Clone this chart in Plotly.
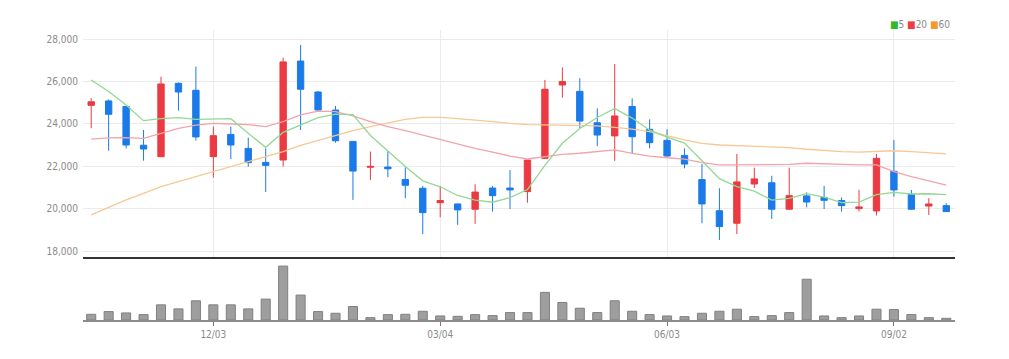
import pandas as pd
import plotly.graph_objects as go

# weekly candles
dates = [d.strftime("%Y-%m-%d") for d in pd.date_range("2018-10-15", periods=50, freq="7D")]

opens = [24870, 25080, 24820, 22990, 22450, 25910, 25580, 22450, 23500, 22840,
         22180, 22290, 26960, 25500, 24650, 23170, 21950, 21960, 21370, 20960,
         20280, 20220, 19970, 20970, 20970, 20800, 22370, 25830, 25530, 24050,
         23430, 24820, 23740, 23220, 22510, 21370, 19900, 19310, 21160, 21220,
         19970, 20600, 20530, 20380, 20000, 19890, 21760, 20670, 20120, 20140]
highs = [25200, 25150, 24830, 23710, 26220, 25950, 26700, 23870, 23870, 23350,
         22840, 27120, 27720, 25550, 24840, 23180, 22690, 22720, 21950, 21070,
         21070, 20230, 21150, 21070, 21820, 22300, 26070, 26660, 26150, 24730,
         26820, 25200, 24210, 23740, 22840, 22100, 20960, 22580, 21930, 21550,
         21930, 20770, 21070, 20530, 20880, 22580, 23240, 20880, 20490, 20250]
lows = [23790, 22730, 22840, 22260, 22420, 24620, 23210, 21460, 22340, 21980,
        20780, 21980, 23710, 24620, 23110, 20410, 21350, 21480, 20490, 18800,
        19590, 19230, 19280, 19860, 19980, 20280, 22340, 25230, 23790, 22950,
        22250, 22580, 22840, 22450, 21900, 19310, 18520, 18800, 20970, 19510,
        19960, 20060, 19980, 19860, 19860, 19670, 20560, 19960, 19700, 19860]
closes = [25040, 24450, 23000, 22810, 25880, 25500, 23380, 23440, 23000, 22170,
          22040, 26920, 25630, 24650, 23200, 21770, 21990, 21880, 21100, 19810,
          20380, 19940, 20780, 20610, 20880, 22290, 25630, 25990, 24130, 23470,
          24370, 23390, 23110, 22480, 22100, 20220, 19150, 21260, 21400, 19970,
          20610, 20310, 20390, 20140, 20080, 22370, 20880, 19970, 20220, 19860]

ma5 = [26070, 25520, 24890, 24150, 24240, 24290, 24210, 24210, 24240, 23550,
       22890, 23600, 23950, 24290, 24460, 24430, 23450, 22700, 21990, 21310,
       21030, 20620, 20400, 20300, 20520, 20900, 22040, 23080, 23780, 24300,
       24720, 24270, 23700, 23370, 23090, 22260, 21410, 21040, 20820, 20400,
       20480, 20710, 20540, 20280, 20310, 20660, 20770, 20690, 20700, 20660]
ma20 = [23280, 23340, 23350, 23310, 23550, 23790, 23940, 24020, 23990, 23960,
        23870, 24100, 24420, 24600, 24570, 24370, 24100, 23870, 23680, 23470,
        23240, 23030, 22840, 22660, 22480, 22340, 22450, 22560, 22610, 22690,
        22770, 22610, 22480, 22400, 22330, 22170, 22060, 22060, 22060, 22060,
        22090, 22140, 22110, 22080, 22060, 22060, 21740, 21510, 21300, 21110]
ma60 = [19700, 20060, 20410, 20720, 21040, 21270, 21510, 21740, 21980, 22220,
        22450, 22690, 22980, 23210, 23430, 23680, 23870, 24050, 24210, 24300,
        24300, 24240, 24180, 24100, 24020, 23960, 23950, 23930, 23910, 23900,
        23830, 23750, 23630, 23430, 23240, 23080, 23000, 22970, 22950, 22920,
        22880, 22800, 22730, 22690, 22660, 22680, 22730, 22690, 22640, 22580]

volumes = [17, 25, 21, 16, 45, 33, 57, 45, 45, 33,
           62, 160, 74, 25, 20, 40, 7, 16, 17, 26,
           12, 11, 16, 13, 22, 22, 82, 52, 35, 22,
           57, 26, 16, 12, 10, 20, 26, 32, 10, 13,
           22, 121, 12, 7, 12, 32, 31, 16, 7, 5]

tick_dates = ["2018-12-03", "2019-03-04", "2019-06-03", "2019-09-02"]
tick_labels = ["12/03", "03/04", "06/03", "09/02"]
y_ticks = [18000, 20000, 22000, 24000, 26000, 28000]

RED = "#EB3A41"
BLUE = "#1A7AE8"
font_fam = "Liberation Sans Narrow, DejaVu Sans Condensed, Roboto, sans-serif"

fig = go.Figure()

for vals, col in [(ma60, "#F8C795"), (ma20, "#F4A3AA"), (ma5, "#93D893")]:
    fig.add_trace(go.Scatter(x=dates, y=vals, mode="lines",
                             line=dict(color=col, width=1.3),
                             showlegend=False, hoverinfo="skip",
                             xaxis="x", yaxis="y"))

fig.add_trace(go.Candlestick(
    x=dates, open=opens, high=highs, low=lows, close=closes,
    increasing=dict(line=dict(color=RED, width=1), fillcolor=RED),
    decreasing=dict(line=dict(color=BLUE, width=1), fillcolor=BLUE),
    whiskerwidth=0, showlegend=False, xaxis="x", yaxis="y"))

fig.add_trace(go.Bar(x=dates, y=volumes, width=0.52,
                     marker=dict(color="#9E9E9E", line=dict(color="#808080", width=1)),
                     showlegend=False, xaxis="x2", yaxis="y2"))

split = 0.2138
fig.update_layout(
    width=1001, height=351,
    margin=dict(l=75, r=54, t=22, b=39),
    paper_bgcolor="white", plot_bgcolor="white",
    boxgap=0.48,
    xaxis=dict(type="category", range=[-0.47, 49.5], anchor="y",
               rangeslider=dict(visible=False),
               tickmode="array", tickvals=tick_dates, ticktext=tick_labels,
               showticklabels=False, ticks="", showgrid=True,
               gridcolor="#EBEBEB", gridwidth=1, zeroline=False, showline=False),
    yaxis=dict(domain=[split, 1], range=[17670, 28425], anchor="x",
               tickmode="array", tickvals=y_ticks, tickformat=",",
               showgrid=True, gridcolor="#EBEBEB", gridwidth=1, zeroline=False,
               ticks="", ticklabelstandoff=4,
               tickfont=dict(family=font_fam, size=10, color="#8A8A8A")),
    xaxis2=dict(type="category", matches="x", anchor="y2",
                tickmode="array", tickvals=tick_dates, ticktext=tick_labels,
                showgrid=False, showline=True, linecolor="#8C8C8C", linewidth=2,
                ticks="outside", ticklen=4, tickcolor="#777777", tickwidth=1,
                tickfont=dict(family=font_fam, size=10, color="#8A8A8A")),
    yaxis2=dict(domain=[0, split], range=[0, 184], anchor="x2",
                showticklabels=False, showgrid=False, zeroline=False, ticks=""),
    shapes=[dict(type="line", xref="paper", yref="paper", x0=0, x1=1,
                 y0=split, y1=split, line=dict(color="#333333", width=2))],
    annotations=[dict(
        xref="paper", yref="paper", x=0.997, y=1.02, xanchor="right", yanchor="middle",
        showarrow=False,
        text=("<span style='color:#2DB82D'>■</span>5 "
              "<span style='color:#F03C44'>■</span>20 "
              "<span style='color:#F39A2E'>■</span>60"),
        font=dict(family=font_fam, size=10, color="#8A8A8A"))],
)

fig.write_html("out.html")
